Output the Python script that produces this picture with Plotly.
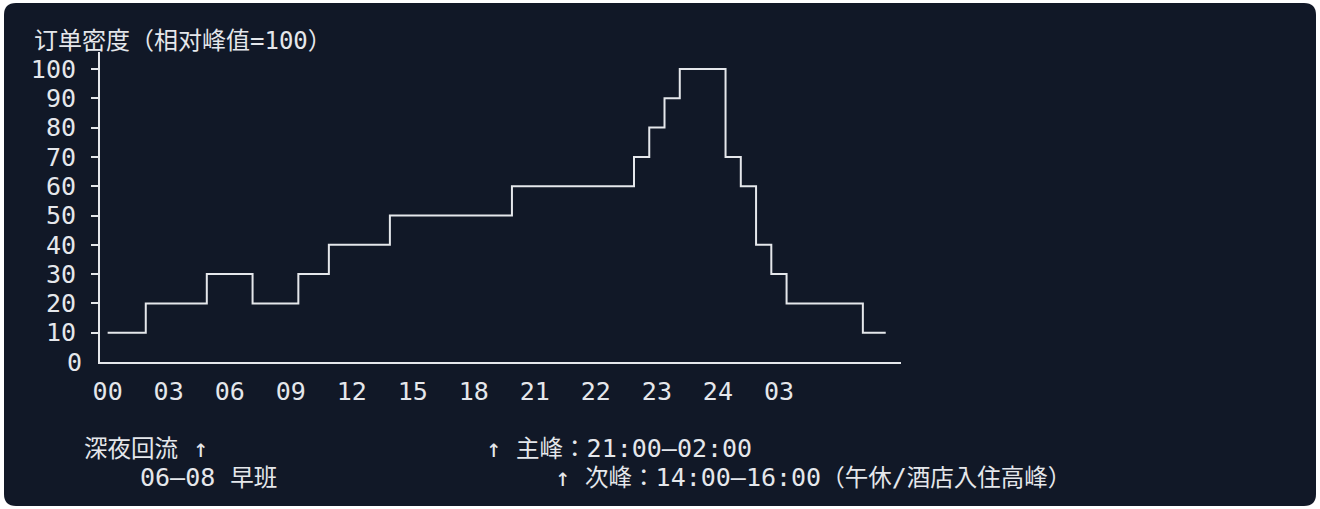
import plotly.graph_objects as go

W, H = 1320, 509
BG = "#111827"
FG = "#e5e7eb"
FONT = "DejaVu Sans Mono, Noto Sans CJK JP, monospace"

# ---- data (x in character columns of the text chart) ----
step_cols = [0.5, 3, 7, 10, 13, 15, 19, 27, 35, 36, 37, 38, 41, 42, 43, 44, 45, 50, 51.5]
levels = [10, 20, 30, 20, 30, 40, 50, 60, 70, 80, 90, 100, 70, 60, 40, 30, 20, 10, 10]

x_tick_cols = [0.5, 4.5, 8.5, 12.5, 16.5, 20.5, 24.5, 28.5, 32.5, 36.5, 40.5, 44.5]
x_tick_labels = ["00", "03", "06", "09", "12", "15", "18", "21", "22", "23", "24", "03"]
y_tick_vals = [10, 20, 30, 40, 50, 60, 70, 80, 90, 100]
y_tick_labels = ["10", "20", "30", "40", "50", "60", "70", "80", "90", "100"]
y_zero_vals = [0]
y_zero_labels = ["0"]

title_text = "订单密度（相对峰值=100）"
note_texts = [
    "深夜回流 ↑",
    "↑ 主峰：21:00–02:00",
    "06–08 早班",
    "↑ 次峰：14:00–16:00（午休/酒店入住高峰）",
]
note_px = [(82, 448), (484, 448), (138, 477), (553, 477)]


def px(x):
    return x / W


def py(y):
    return 1 - y / H


def is_wide(ch):
    o = ord(ch)
    return o >= 0x2E80 and not (0xFF61 <= o <= 0xFFDC)


def mixed(text, narrow=25, wide=23.5):
    out, run, cur = [], "", None
    for ch in text:
        w = is_wide(ch)
        if cur is None or w == cur:
            run += ch
        else:
            out.append((cur, run))
            run = ch
        cur = w
    if run:
        out.append((cur, run))
    return "".join(
        f'<span style="font-size:{wide if w else narrow}px">{r}</span>' for w, r in out
    )


fig = go.Figure()
fig.add_trace(go.Scatter(
    x=step_cols, y=levels, mode="lines",
    line=dict(shape="hv", color=FG, width=2),
    hoverinfo="skip", cliponaxis=False,
))
# empty trace so that the overlay axis carrying the "0" label is drawn
fig.add_trace(go.Scatter(
    x=[], y=[], yaxis="y2", mode="lines", hoverinfo="skip", showlegend=False,
))

# rounded dark card
x0, x1, y0, y1, r = 4, 1316, 3, 506, 12
path = (
    f"M {px(x0 + r)} {py(y0)} L {px(x1 - r)} {py(y0)} "
    f"Q {px(x1)} {py(y0)} {px(x1)} {py(y0 + r)} "
    f"L {px(x1)} {py(y1 - r)} Q {px(x1)} {py(y1)} {px(x1 - r)} {py(y1)} "
    f"L {px(x0 + r)} {py(y1)} Q {px(x0)} {py(y1)} {px(x0)} {py(y1 - r)} "
    f"L {px(x0)} {py(y0 + r)} Q {px(x0)} {py(y0)} {px(x0 + r)} {py(y0)} Z"
)
fig.add_shape(type="path", path=path, xref="paper", yref="paper",
              fillcolor=BG, line=dict(width=0), layer="below")

annotations = [dict(
    text=title_text, x=px(32), y=py(41), xref="paper", yref="paper",
    xanchor="left", yanchor="middle", showarrow=False,
    font=dict(family=FONT, size=24, color=FG),
)]
for t, (ax, ay) in zip(note_texts, note_px):
    annotations.append(dict(
        text=mixed(t), x=px(ax), y=py(ay), xref="paper", yref="paper",
        xanchor="left", yanchor="middle", showarrow=False,
        font=dict(family=FONT, size=25, color=FG),
    ))

fig.update_layout(
    width=W, height=H, autosize=False,
    margin=dict(l=0, r=0, t=0, b=0, pad=0),
    paper_bgcolor="white", plot_bgcolor="rgba(0,0,0,0)",
    showlegend=False,
    font=dict(family=FONT, size=25, color=FG),
    annotations=annotations,
    xaxis=dict(
        domain=[px(100), px(901)], range=[0, 52.5], automargin=False,
        showline=True, linecolor=FG, linewidth=2,
        showgrid=False, zeroline=False, ticks="",
        tickmode="array", tickvals=x_tick_cols, ticktext=x_tick_labels,
        tickfont=dict(family=FONT, size=25, color=FG),
        ticklabelstandoff=6, fixedrange=True,
    ),
    yaxis=dict(
        domain=[py(362), py(52)], range=[0, 105.8], automargin=False,
        showline=True, linecolor=FG, linewidth=2,
        showgrid=False, zeroline=False,
        ticks="outside", ticklen=7, tickwidth=2, tickcolor=FG,
        tickmode="array", tickvals=y_tick_vals, ticktext=y_tick_labels,
        tickfont=dict(family=FONT, size=25, color=FG),
        ticklabelstandoff=10, fixedrange=True,
    ),
    yaxis2=dict(
        overlaying="y", anchor="x", side="left", range=[0, 105.8],
        automargin=False,
        showline=False, showgrid=False, zeroline=False, ticks="",
        tickmode="array", tickvals=y_zero_vals, ticktext=y_zero_labels,
        tickfont=dict(family=FONT, size=25, color=FG),
        ticklabelstandoff=17, fixedrange=True,
    ),
)

fig.write_html("out.html", config={"displayModeBar": False},
               post_script="document.body.style.margin='0';")
